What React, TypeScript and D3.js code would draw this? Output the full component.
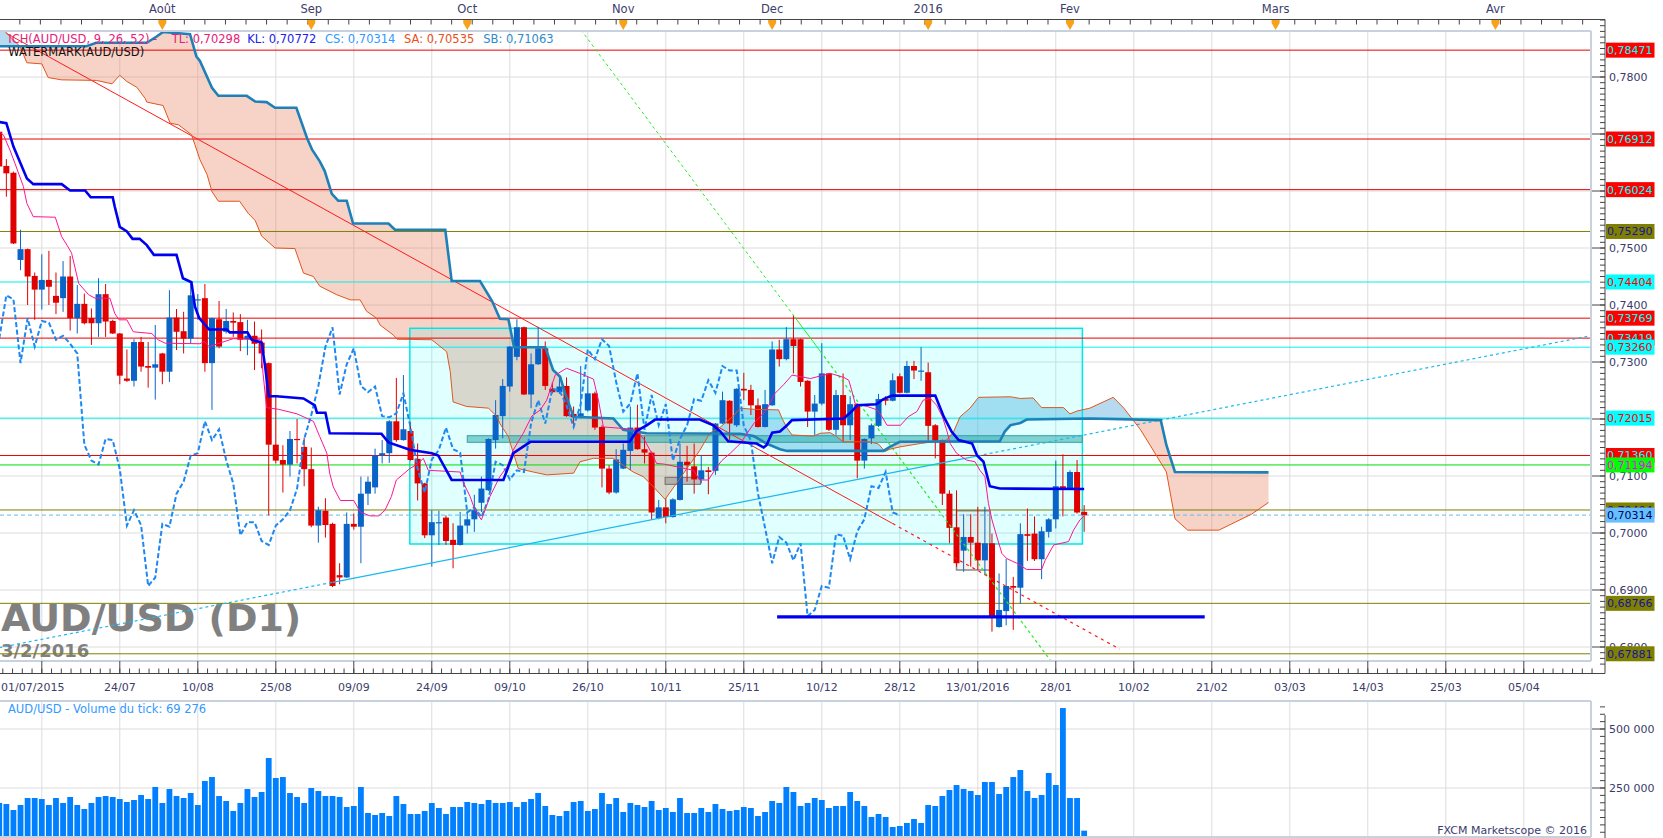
import React from "react";
import * as d3 from "d3";

// ---------------- DATA ----------------
const opens = [
  0.7704,0.7644,0.7632,0.7479,0.7498,0.7451,0.7427,0.7444,0.7416,0.7412,
  0.7450,0.7377,0.7402,0.7377,0.7368,0.7419,0.7372,0.7350,0.7271,0.7267,
  0.7335,0.7293,0.7290,0.7315,0.7283,0.7378,0.7354,0.7341,0.7409,0.7412,
  0.7298,0.7375,0.7353,0.7372,0.7370,0.7340,0.7346,0.7334,0.7298,0.7155,
  0.7128,0.7120,0.7165,0.7151,0.7112,0.7013,0.7039,0.7016,0.6926,0.6922,
  0.7016,0.7011,0.7069,0.7080,0.7136,0.7140,0.7196,0.7163,0.7179,0.7130,
  0.7087,0.6996,0.7018,0.7027,0.6988,0.6979,0.7013,0.7024,0.7053,0.7075,
  0.7163,0.7205,0.7257,0.7309,0.7361,0.7243,0.7296,0.7324,0.7253,0.7247,
  0.7258,0.7209,0.7203,0.7215,0.7245,0.7186,0.7113,0.7071,0.7113,0.7144,
  0.7185,0.7147,0.7141,0.7026,0.7045,0.7028,0.7058,0.7125,0.7117,0.7094,
  0.7110,0.7109,0.7192,0.7232,0.7189,0.7253,0.7251,0.7224,0.7186,0.7224,
  0.7322,0.7305,0.7340,0.7340,0.7267,0.7213,0.7227,0.7280,0.7181,0.7242,
  0.7189,0.7226,0.7127,0.7166,0.7188,0.7235,0.7232,0.7275,0.7246,0.7293,
  0.7284,0.7282,0.7189,0.7163,0.7069,0.7010,0.6969,0.6993,0.6983,0.6952,
  0.6982,0.6835,0.6863,0.6907,0.6904,0.6998,0.6999,0.6954,0.7002,0.7024,
  0.7082,0.7078,0.7107,0.7037,
];
const highs = [
  0.7707,0.7656,0.7634,0.7532,0.7499,0.7457,0.7489,0.7495,0.7457,0.7477,
  0.7486,0.7435,0.7420,0.7394,0.7447,0.7437,0.7374,0.7351,0.7322,0.7340,
  0.7344,0.7335,0.7365,0.7316,0.7426,0.7393,0.7388,0.7441,0.7419,0.7437,
  0.7378,0.7407,0.7393,0.7387,0.7384,0.7374,0.7371,0.7357,0.7299,0.7240,
  0.7154,0.7179,0.7200,0.7167,0.7150,0.7046,0.7061,0.7018,0.6947,0.7036,
  0.7034,0.7099,0.7099,0.7148,0.7163,0.7198,0.7272,0.7277,0.7194,0.7157,
  0.7088,0.7040,0.7039,0.7031,0.7017,0.7037,0.7038,0.7067,0.7099,0.7166,
  0.7233,0.7270,0.7328,0.7375,0.7362,0.7315,0.7362,0.7336,0.7264,0.7277,
  0.7273,0.7222,0.7293,0.7274,0.7248,0.7189,0.7119,0.7147,0.7157,0.7222,
  0.7225,0.7169,0.7143,0.7058,0.7061,0.7061,0.7157,0.7153,0.7157,0.7137,
  0.7116,0.7193,0.7248,0.7233,0.7254,0.7281,0.7260,0.7236,0.7251,0.7336,
  0.7339,0.7361,0.7382,0.7341,0.7268,0.7242,0.7333,0.7281,0.7251,0.7280,
  0.7240,0.7227,0.7166,0.7192,0.7244,0.7240,0.7280,0.7280,0.7302,0.7302,
  0.7326,0.7299,0.7191,0.7164,0.7075,0.7075,0.7033,0.7033,0.7046,0.7046,
  0.6999,0.6929,0.6955,0.6923,0.7017,0.7043,0.7029,0.7011,0.7026,0.7127,
  0.7138,0.7110,0.7128,0.7049,
];
const lows = [
  0.7640,0.7590,0.7507,0.7461,0.7400,0.7374,0.7392,0.7400,0.7384,0.7388,
  0.7355,0.7350,0.7366,0.7330,0.7344,0.7344,0.7349,0.7261,0.7265,0.7257,
  0.7283,0.7255,0.7234,0.7261,0.7265,0.7321,0.7315,0.7333,0.7374,0.7283,
  0.7216,0.7324,0.7350,0.7344,0.7319,0.7312,0.7286,0.7289,0.7031,0.7122,
  0.7071,0.7099,0.7122,0.7082,0.7010,0.6983,0.6992,0.6905,0.6910,0.6921,
  0.7006,0.6947,0.7049,0.7069,0.7122,0.7123,0.7160,0.7162,0.7127,0.7057,
  0.6991,0.6941,0.6979,0.6979,0.6938,0.6978,0.6999,0.7002,0.7037,0.7074,
  0.7148,0.7166,0.7248,0.7303,0.7242,0.7219,0.7295,0.7251,0.7245,0.7244,
  0.7204,0.7185,0.7201,0.7213,0.7181,0.7080,0.7068,0.7069,0.7112,0.7110,
  0.7146,0.7122,0.7023,0.7024,0.7017,0.7027,0.7057,0.7090,0.7069,0.7087,
  0.7068,0.7102,0.7191,0.7163,0.7186,0.7233,0.7207,0.7185,0.7185,0.7223,
  0.7292,0.7303,0.7280,0.7257,0.7186,0.7172,0.7224,0.7179,0.7172,0.7160,
  0.7163,0.7096,0.7113,0.7156,0.7186,0.7224,0.7231,0.7245,0.7245,0.7270,
  0.7267,0.7162,0.7131,0.7049,0.6982,0.6941,0.6932,0.6941,0.6935,0.6926,
  0.6827,0.6834,0.6838,0.6830,0.6876,0.6951,0.6951,0.6919,0.6992,0.7008,
  0.7029,0.7077,0.7034,0.7002,
];
const closes = [
  0.7643,0.7631,0.7508,0.7498,0.7450,0.7427,0.7444,0.7432,0.7404,0.7450,
  0.7377,0.7402,0.7368,0.7368,0.7419,0.7371,0.7350,0.7276,0.7267,0.7335,
  0.7292,0.7290,0.7296,0.7283,0.7378,0.7353,0.7341,0.7417,0.7410,0.7298,
  0.7377,0.7327,0.7372,0.7369,0.7339,0.7346,0.7332,0.7315,0.7155,0.7127,
  0.7120,0.7165,0.7163,0.7112,0.7013,0.7040,0.7014,0.6907,0.6922,0.7016,
  0.7011,0.7069,0.7090,0.7136,0.7140,0.7196,0.7163,0.7182,0.7128,0.7087,
  0.6996,0.7019,0.7019,0.6986,0.6979,0.7013,0.7024,0.7040,0.7078,0.7165,
  0.7207,0.7258,0.7327,0.7361,0.7243,0.7296,0.7324,0.7258,0.7247,0.7257,
  0.7205,0.7203,0.7210,0.7245,0.7185,0.7113,0.7071,0.7129,0.7146,0.7185,
  0.7147,0.7141,0.7036,0.7045,0.7028,0.7059,0.7125,0.7119,0.7094,0.7110,
  0.7107,0.7192,0.7233,0.7192,0.7253,0.7250,0.7224,0.7186,0.7226,0.7322,
  0.7305,0.7340,0.7328,0.7265,0.7213,0.7227,0.7280,0.7181,0.7242,0.7189,
  0.7226,0.7127,0.7165,0.7189,0.7235,0.7232,0.7268,0.7246,0.7293,0.7285,
  0.7285,0.7188,0.7162,0.7069,0.7009,0.6947,0.6993,0.6983,0.6952,0.6982,
  0.6854,0.6865,0.6907,0.6904,0.6998,0.6995,0.6954,0.7003,0.7024,0.7082,
  0.7079,0.7107,0.7036,0.70314,
];
const volumes = [
  186400,182100,156700,177900,207600,207600,203300,177900,207600,186400,
  211800,177900,161000,186400,211800,216000,211800,203300,190600,199100,
  220300,203300,254200,186400,245700,216000,207600,228700,177900,279600,
  296500,216000,194900,152500,186400,245700,211800,233000,377000,292300,
  296500,228700,211800,186400,249900,237200,216000,216000,211800,169400,
  173700,254200,144000,135600,144000,131300,216000,182100,139800,139800,
  152500,186400,165200,139800,169400,169400,190600,186400,182100,199100,
  186400,186400,190600,169400,190600,203300,228700,173700,135600,131300,
  152500,190600,194900,152500,161000,228700,182100,207600,148300,186400,
  177900,169400,194900,156700,165200,148300,207600,144000,144000,165200,
  148300,182100,161000,152500,156700,169400,165200,131300,148300,194900,
  186400,254200,233000,173700,186400,207600,199100,165200,173700,173700,
  233000,194900,173700,127100,139800,127100,84700,89000,101700,118600,
  101700,177900,173700,216000,241500,262600,245700,237200,220300,275300,
  275300,224500,254200,296500,326200,237200,207600,220300,313500,262600,
  588800,207600,207600,69276,
];

// Ichimoku lines as [bar, price] break points
const tenkan: [number, number][] = [
  [0,0.7704],[0.6,0.7698],[1.5,0.7672],[2.2,0.7649],[3.4,0.7608],[3.9,0.7578],[4.8,0.7555],[7.9,0.7554],
  [8.8,0.7520],[9.7,0.7502],[10.2,0.7491],[11.2,0.7438],[12.6,0.7418],[13.5,0.7412],[15.6,0.7412],[16.3,0.7385],
  [16.9,0.7374],[18,0.7374],[18.9,0.7353],[21.5,0.7350],[22.4,0.7339],[23.4,0.7333],[28.3,0.7332],[28.9,0.7336],
  [29.6,0.7327],[33,0.7341],[36.8,0.7339],[37.2,0.7280],[37.7,0.7220],[39.4,0.7217],[42,0.7209],[43.4,0.7201],
  [44.3,0.7196],[45.2,0.7169],[46.2,0.7140],[46.6,0.7105],[47.1,0.7081],[48.1,0.7057],[50,0.7057],[50.9,0.7037],
  [52.3,0.7030],[53.5,0.7030],[54.4,0.7040],[55.3,0.7064],[56,0.7093],[57.9,0.7113],[59.1,0.7122],[59.8,0.7131],
  [60.5,0.7110],[65,0.7107],[65.5,0.7087],[66.4,0.7064],[67.1,0.7040],[68,0.7023],[69.2,0.7064],[70.6,0.7099],
  [71.6,0.7116],[72.5,0.7146],[73.9,0.7175],[75.1,0.7205],[76.3,0.7216],[77.2,0.7233],[78.4,0.7277],[80,0.7289],
  [81.9,0.7280],[83.8,0.7270],[84.5,0.7233],[85.2,0.7186],[88.5,0.7183],[89.9,0.7180],[91,0.7163],[92,0.7140],
  [92.7,0.7122],[93.7,0.7121],[97.9,0.7110],[98.8,0.7093],[100,0.7093],[101.2,0.7116],[101.9,0.7127],[103.1,0.7140],
  [104.5,0.7157],[106.4,0.7192],[108.2,0.7216],[109.4,0.7245],[110.6,0.7260],[111.8,0.7277],[114.4,0.7271],[117.2,0.7280],
  [119.1,0.7273],[119.8,0.7268],[120.2,0.7251],[120.7,0.7227],[122.4,0.7222],[123.8,0.7216],[124.5,0.7204],[125.2,0.7189],
  [127.1,0.7189],[128.2,0.7204],[129.4,0.7213],[130.3,0.7233],[131.3,0.7236],[132.2,0.7224],[133,0.7204],[133.6,0.7181],
  [134.1,0.7157],[135,0.7140],[136.4,0.7128],[137.6,0.7125],[138.3,0.7110],[139,0.7099],[139.5,0.7052],[140,0.7023],
  [140.7,0.6993],[141.4,0.6964],[142.1,0.6955],[143.5,0.6947],[144.9,0.6936],[147,0.6936],[147.5,0.6952],[148.7,0.6979],
  [150.8,0.6985],[151.5,0.7005],[152.4,0.7023],[153,0.70298],
];
const kijun: [number, number][] = [
  [0,0.7721],[1,0.7719],[2,0.7678],[3.9,0.7622],[4.8,0.7612],[8.8,0.7612],[10,0.7601],[12.1,0.7601],
  [12.9,0.7589],[16,0.7589],[16.3,0.7572],[17,0.7537],[18,0.7529],[18.8,0.7516],[19.8,0.7516],[20.8,0.7505],
  [21.8,0.7488],[25,0.7488],[25.9,0.7447],[27.1,0.7440],[27.6,0.7397],[28.2,0.7377],[29.6,0.7357],[32.1,0.7357],
  [32.5,0.7352],[35,0.7352],[35.6,0.7339],[37,0.7334],[37.5,0.7292],[38,0.7240],[39.1,0.7240],[42.9,0.7236],
  [44.5,0.7224],[44.8,0.7211],[46,0.7211],[46.6,0.7175],[53.9,0.7174],[54.9,0.7159],[57.9,0.7146],[61,0.7140],
  [61.9,0.7136],[63.8,0.7093],[71.1,0.7093],[72.5,0.7140],[74.9,0.7160],[88.9,0.7160],[89.9,0.7179],[91.3,0.7189],
  [92.5,0.7199],[98.8,0.7199],[100.7,0.7189],[101.7,0.7178],[102.8,0.7161],[106.8,0.7157],[107.8,0.7150],[108.2,0.7154],
  [109,0.7176],[110.1,0.7178],[111.1,0.7189],[111.8,0.7198],[119.1,0.7201],[120.2,0.7213],[121,0.7224],[123.7,0.7226],
  [124.7,0.7235],[125.9,0.7241],[132,0.7241],[133.2,0.7204],[134.3,0.7178],[135.3,0.7163],[137.2,0.7157],[137.9,0.7136],
  [138.8,0.7125],[139.7,0.7082],[141.1,0.7078],[153,0.70772],
];
const senkouA: [number, number][] = [
  [0,0.7900],[1,0.7877],[2.9,0.7854],[3.9,0.7825],[6,0.7823],[6.9,0.7799],[8.8,0.7795],[13.7,0.7794],
  [15.9,0.7788],[17,0.7803],[18,0.7792],[19.4,0.7782],[20.6,0.7762],[20.8,0.7756],[23.1,0.7750],[24.1,0.7719],
  [25.3,0.7716],[27.1,0.7699],[27.6,0.7681],[28.3,0.7655],[29.3,0.7629],[30,0.7599],[30.9,0.7582],[33.9,0.7582],
  [35.1,0.7561],[36.1,0.7548],[37,0.7521],[38.9,0.7500],[41.7,0.7499],[42.9,0.7456],[44.3,0.7450],[45.2,0.7433],
  [47.6,0.7418],[49.5,0.7409],[50.9,0.7409],[51.8,0.7389],[53.2,0.7377],[53.7,0.7365],[55.6,0.7347],[56.1,0.7340],
  [61,0.7339],[63.1,0.7318],[63.6,0.7283],[64,0.7230],[65.9,0.7222],[69,0.7219],[70.2,0.7204],[70.6,0.7192],
  [71.8,0.7169],[72.5,0.7140],[73.2,0.7113],[75.3,0.7107],[77.2,0.7102],[81,0.7105],[81.9,0.7125],[83.8,0.7131],
  [86.6,0.7131],[88,0.7119],[89.4,0.7107],[90.8,0.7099],[91.8,0.7087],[93.9,0.7059],[95.5,0.7087],[97.2,0.7117],
  [98.8,0.7145],[100.2,0.7175],[101.7,0.7186],[103.5,0.7205],[104.5,0.7219],[106.4,0.7217],[109.9,0.7216],[110.4,0.7201],
  [111.1,0.7184],[111.8,0.7172],[114.8,0.7170],[115.8,0.7175],[117.2,0.7176],[118.1,0.7169],[119,0.7160],[122.8,0.7160],
  [124,0.7156],[124.9,0.7143],[125.6,0.7147],[127,0.7151],[129.9,0.7157],[131.7,0.7160],[133.6,0.7163],[134.6,0.7178],
  [135.5,0.7204],[136.9,0.7219],[138.1,0.7238],[142.6,0.7239],[144,0.7236],[145.8,0.7237],[147,0.7220],[150.1,0.7220],
  [151,0.7209],[152,0.7214],[153.8,0.7219],[157.1,0.7238],[158.6,0.7219],[160.9,0.7182],[162.3,0.7154],[164.6,0.7107],
  [165.8,0.7025],[167.6,0.7005],[172,0.7005],[174.3,0.7019],[176.6,0.7033],[179,0.70535],
];
const senkouB: [number, number][] = [
  [0,0.7854],[12.3,0.7854],[13.7,0.7860],[20.8,0.7860],[22.2,0.7871],[23.1,0.7879],[26.9,0.7875],[27.8,0.7836],
  [28.3,0.7828],[30,0.7781],[30.9,0.7767],[34.9,0.7767],[36.1,0.7757],[37.7,0.7756],[38.9,0.7746],[41.9,0.7746],
  [43.4,0.7693],[44.1,0.7673],[45.2,0.7652],[45.9,0.7635],[46.9,0.7595],[47.8,0.7583],[49,0.7583],[49.9,0.7543],
  [54.9,0.7543],[55.8,0.7532],[62.9,0.7532],[63.8,0.7442],[67.8,0.7442],[69.5,0.7407],[70.6,0.7376],[71.8,0.7375],
  [72.6,0.7326],[77,0.7326],[78.1,0.7286],[79.1,0.7274],[79.8,0.7245],[81,0.7204],[86.6,0.7201],[88,0.7181],
  [91.3,0.7175],[104.5,0.7174],[106.4,0.7170],[108.2,0.7157],[110.1,0.7147],[111.1,0.7144],[124.7,0.7144],[125.6,0.7151],
  [127,0.7160],[141.1,0.7161],[141.8,0.7178],[142.6,0.7189],[144,0.7193],[144.9,0.7199],[153.8,0.7201],[163.8,0.7198],
  [164.6,0.7154],[165.8,0.7107],[179,0.71063],
];
const chikouShift = 26;

// Horizontal levels drawn on the chart
const levelPrices = [0.78471,0.76912,0.76024,0.75290,0.74404,0.73769,0.73419,0.73260,0.72015,0.71360,0.71194,0.70404,0.68766,0.67881];
const levelKinds = ["red","red","red","olive","cyan","red","red","cyan","cyan","red","green","olive","olive","olive"];
const lastPrice = 0.70314;

// Drawn trend lines [bar, price]
const redTrend: [number, number][] = [[1,0.78767],[126,0.70165],[158,0.67963]];
const greenTrend: [number, number][] = [[82.05,0.78825],[112.2,0.73787],[115.8,0.73186],[148.2,0.67772]];
const blueTrend: [number, number][] = [[0,0.67989],[47,0.69135],[138,0.71354],[224.4,0.73460]];
const supportLine: [number, number][] = [[109.7,0.6853],[170,0.6853]];

// Drawn rectangles: [bar0, bar1, priceTop, priceBottom]
const cyanBox = [57.9, 152.75, 0.73591, 0.69807];
const tealBox = [66, 152.75, 0.71707, 0.71591];
const grayBox1 = [93.9, 98.9, 0.70977, 0.70854];
const grayBox2 = [135, 139.7, 0.70391, 0.69351];

// Axis labels
const firstDateLabel = "01/07/2015";
const dateLabels = ["24/07","10/08","25/08","09/09","24/09","09/10","26/10","10/11","25/11","10/12","28/12","13/01/2016","28/01","10/02","21/02","03/03","14/03","25/03","05/04"];
const dateLabelFirstBar = 17;
const dateLabelStep = 11;
const monthLabels = ["Août","Sep","Oct","Nov","Dec","2016","Fev","Mars","Avr"];
const monthBars = [23,44,66,88,109,131,151,180,211];
const priceTicks = [0.68,0.69,0.70,0.71,0.72,0.73,0.74,0.75,0.76,0.77,0.78];
const volumeTicks = [250000, 500000];

// ---------------- CHART ----------------
const FONT = "DejaVu Sans, Verdana, sans-serif";
const PL = 0, PR = 1590, PT = 31, PB = 661;
const VT = 701, VB = 837;
const AX = 1605;

const kindStyle: Record<string, { line: string; bg: string; fg: string }> = {
  red: { line: "#E80000", bg: "#FF0000", fg: "#00FFFF" },
  olive: { line: "#808000", bg: "#808000", fg: "#1414A0" },
  cyan: { line: "#00F0F0", bg: "#00FFFF", fg: "#FF0000" },
  green: { line: "#00DD00", bg: "#00FF00", fg: "#FF00FF" },
};

const fmt = (p: number, d: number) => p.toFixed(d).replace(".", ",");
const fmtVol = (v: number) => d3.format(",")(v).replace(/,/g, " ");

export default function App() {
  const x = d3.scaleLinear().domain([6, 149]).range([41.8, 1055.8]);
  const y = d3.scaleLinear().domain([0.7, 0.78]).range([533, 77]);
  const yv = d3.scaleLinear().domain([250000, 500000]).range([788, 729]);

  const line = d3.line<[number, number]>().x((d) => x(d[0])).y((d) => y(d[1]));

  const saI = d3.scaleLinear().domain(senkouA.map((d) => d[0])).range(senkouA.map((d) => d[1])).clamp(true);
  const sbI = d3.scaleLinear().domain(senkouB.map((d) => d[0])).range(senkouB.map((d) => d[1])).clamp(true);
  const samples = d3.range(0, 179.0001, 0.1);
  const bearArea = d3.area<number>().x((b) => x(b)).y0((b) => y(saI(b))).y1((b) => y(Math.max(saI(b), sbI(b))));
  const bullArea = d3.area<number>().x((b) => x(b)).y0((b) => y(sbI(b))).y1((b) => y(Math.max(saI(b), sbI(b))));

  const chikou: [number, number][] = closes.slice(chikouShift).map((c, i) => [i, c]);

  const gridBars = d3.range(6, 226, dateLabelStep).filter((b) => x(b) < PR);
  const minorBars = d3.range(6 - dateLabelStep, 226, dateLabelStep / 8).filter((b) => x(b) >= 0 && x(b) < AX);
  const topTickBars = d3.range(0, 226, 2.9).filter((b) => x(b) < AX);
  const minorPrice = d3.range(0.677, 0.7905, 0.001);
  const minorVol = d3.range(0, 700000, 31250).filter((v) => yv(v) > VT && yv(v) < VB);

  // price tick labels that collide with a level label are hidden (as the platform does)
  const allLabelY = [...levelPrices, lastPrice].map((p) => y(p));
  const shownTicks = priceTicks.filter((p) => allLabelY.every((ly) => Math.abs(ly - y(p)) >= 6));

  const up = "#0A64C8";
  const down = "#E00000";

  const rectOf = (r: number[]) => ({ x: x(r[0]), y: y(r[2]), w: x(r[1]) - x(r[0]), h: y(r[3]) - y(r[2]) });
  const cb = rectOf(cyanBox), tb = rectOf(tealBox), g1 = rectOf(grayBox1), g2 = rectOf(grayBox2);

  return (
    <svg width={1663} height={838} style={{ position: "absolute", left: 0, top: 0, background: "#fff" }} fontFamily={FONT}>
      <defs>
        <clipPath id="pane"><rect x={PL} y={PT} width={PR - PL} height={PB - PT} /></clipPath>
        <clipPath id="vpane"><rect x={PL} y={VT} width={PR - PL} height={VB - VT} /></clipPath>
      </defs>
      <rect x={0} y={0} width={1663} height={838} fill="#fff" />

      {/* grids */}
      <g stroke="#DCDCDC" strokeWidth={1}>
        {gridBars.map((b) => (
          <line key={"gv" + b} x1={x(b)} x2={x(b)} y1={PT} y2={PB} />
        ))}
        {priceTicks.map((p) => (
          <line key={"gh" + p} x1={PL} x2={PR} y1={y(p)} y2={y(p)} />
        ))}
        {gridBars.map((b) => (
          <line key={"vgv" + b} x1={x(b)} x2={x(b)} y1={VT} y2={VB} />
        ))}
        {volumeTicks.map((v) => (
          <line key={"vgh" + v} x1={PL} x2={PR} y1={yv(v)} y2={yv(v)} />
        ))}
      </g>

      {/* watermark */}
      <text x={1} y={631} fontWeight="bold" fontSize={38} fill="#808080">AUD/USD (D1)</text>
      <text x={1} y={656.5} fontWeight="bold" fontSize={18} fill="#808080">3/2/2016</text>

      <g clipPath="url(#pane)">
        {/* cloud */}
        <path d={bearArea(samples) || ""} fill="rgba(230,130,100,0.36)" stroke="none" />
        <path d={bullArea(samples) || ""} fill="rgba(80,170,220,0.42)" stroke="none" />

        {/* rectangles */}
        <rect x={cb.x} y={cb.y} width={cb.w} height={cb.h} fill="rgba(0,255,255,0.12)" stroke="#00E6E6" strokeWidth={1.5} />
        <rect x={tb.x} y={tb.y} width={tb.w} height={tb.h} fill="rgba(60,180,180,0.6)" stroke="#3AA0A0" strokeWidth={1} />
        <rect x={g1.x} y={g1.y} width={g1.w} height={g1.h} fill="rgba(150,150,150,0.6)" stroke="#806860" strokeWidth={1} />
        <rect x={g2.x} y={g2.y} width={g2.w} height={g2.h} fill="rgba(215,215,215,0.3)" stroke="#8A8A8A" strokeWidth={1.5} />

        {/* levels */}
        {levelPrices.map((p, i) => (
          <line key={"lv" + i} x1={PL} x2={PR} y1={y(p)} y2={y(p)} stroke={kindStyle[levelKinds[i]].line} strokeWidth={1} />
        ))}
        <line x1={PL} x2={PR} y1={y(lastPrice)} y2={y(lastPrice)} stroke="#66BBEE" strokeWidth={1} strokeDasharray="4,3" />

        {/* candles */}
        {opens.map((o, i) => {
          const c = closes[i];
          const col = c >= o ? up : down;
          const cx = x(i);
          const top = y(Math.max(o, c));
          const bot = y(Math.min(o, c));
          return (
            <g key={"c" + i}>
              <line x1={cx} x2={cx} y1={y(highs[i])} y2={y(lows[i])} stroke={col} strokeWidth={1} />
              <rect x={cx - 3} y={top} width={6} height={Math.max(1.2, bot - top)} fill={col} />
            </g>
          );
        })}

        {/* trend lines */}
        <path d={line(redTrend.slice(0, 2)) || ""} fill="none" stroke="#FF1A1A" strokeWidth={1} />
        <path d={line(redTrend.slice(1, 3)) || ""} fill="none" stroke="#FF1A1A" strokeWidth={1.2} strokeDasharray="3,4" />
        <path d={line(greenTrend.slice(0, 2)) || ""} fill="none" stroke="#22EE22" strokeWidth={1} strokeDasharray="3,3" />
        <path d={line(greenTrend.slice(1, 3)) || ""} fill="none" stroke="#22EE22" strokeWidth={1} />
        <path d={line(greenTrend.slice(2, 4)) || ""} fill="none" stroke="#22EE22" strokeWidth={1.2} strokeDasharray="3,3" />
        <path d={line(blueTrend.slice(0, 2)) || ""} fill="none" stroke="#1AB8F0" strokeWidth={1.2} strokeDasharray="3,3" />
        <path d={line(blueTrend.slice(1, 3)) || ""} fill="none" stroke="#1AB8F0" strokeWidth={1.2} />
        <path d={line(blueTrend.slice(2, 4)) || ""} fill="none" stroke="#1AB8F0" strokeWidth={1.2} strokeDasharray="3,3" />

        {/* ichimoku lines */}
        <path d={line(senkouA) || ""} fill="none" stroke="#E2561C" strokeWidth={1} />
        <path d={line(senkouB) || ""} fill="none" stroke="#1F80B8" strokeWidth={2.6} />
        <path d={line(chikou) || ""} fill="none" stroke="#1E88F0" strokeWidth={2} strokeDasharray="5,2.5" />
        <path d={line(tenkan) || ""} fill="none" stroke="#FF1493" strokeWidth={1} />
        <path d={line(kijun) || ""} fill="none" stroke="#0000F0" strokeWidth={2.6} />

        <path d={line(supportLine) || ""} fill="none" stroke="#0000F0" strokeWidth={3.2} />
      </g>

      {/* legend */}
      <g fontSize={11.5}>
        <text x={8.3} y={43} fill="#E8207A">ICH(AUD/USD, 9, 26, 52) -</text>
        <text x={171.7} y={43} fill="#E8207A">TL: 0,70298</text>
        <text x={247.3} y={43} fill="#2020E8">KL: 0,70772</text>
        <text x={325} y={43} fill="#3399FF">CS: 0,70314</text>
        <text x={404} y={43} fill="#E8501A">SA: 0,70535</text>
        <text x={483.3} y={43} fill="#2E8BC8">SB: 0,71063</text>
        <text x={8.3} y={56} fill="#111">WATERMARK(AUD/USD)</text>
      </g>

      {/* volume bars */}
      <g clipPath="url(#vpane)">
        {volumes.map((v, i) => (
          <rect key={"v" + i} x={x(i) - 2.9} y={yv(v)} width={5.8} height={Math.max(0, VB - 0.5 - yv(v))} fill="#007FFF" />
        ))}
      </g>
      <text x={8} y={713} fontSize={11.5} fill="#3399FF">AUD/USD - Volume du tick: {fmtVol(volumes[volumes.length - 1])}</text>
      <text x={1587} y={834} fontSize={11} fill="#3C3C6E" textAnchor="end">FXCM Marketscope © 2016</text>

      {/* pane borders */}
      <g fill="none" stroke="#C8D2DE" strokeWidth={2}>
        <line x1={0} x2={PR + 1} y1={PT} y2={PT} />
        <line x1={PR + 1} x2={PR + 1} y1={PT} y2={PB} />
        <line x1={0} x2={PR + 1} y1={PB} y2={PB} />
        <line x1={0} x2={PR + 1} y1={VT} y2={VT} />
        <line x1={PR + 1} x2={PR + 1} y1={VT} y2={VB} />
        <line x1={0} x2={PR + 1} y1={VB} y2={VB} />
      </g>

      {/* top axis */}
      <g stroke="#444" strokeWidth={1}>
        <line x1={0} x2={AX} y1={19.5} y2={19.5} />
        {topTickBars.map((b, i) => (
          <line key={"tt" + i} x1={x(b)} x2={x(b)} y1={19.5} y2={24.5} />
        ))}
      </g>
      {monthBars.map((b, i) => (
        <g key={"m" + i}>
          <path d={`M${x(b) - 4},20 L${x(b) + 4},20 L${x(b) + 4},23 L${x(b)},30 L${x(b) - 4},23 Z`} fill="#F7A21B" />
          <text x={x(b)} y={13} fontSize={11.5} fill="#3D3D6B" textAnchor="middle">{monthLabels[i]}</text>
        </g>
      ))}

      {/* bottom date axis */}
      <g stroke="#444" strokeWidth={1}>
        <line x1={0} x2={AX} y1={673.5} y2={673.5} />
        {minorBars.map((b, i) => (
          <line key={"mb" + i} x1={x(b)} x2={x(b)} y1={668.5} y2={673.5} />
        ))}
        {gridBars.map((b) => (
          <line key={"mj" + b} x1={x(b)} x2={x(b)} y1={661} y2={673.5} />
        ))}
      </g>
      <text x={1} y={691} fontSize={11} fill="#3D3D6B">{firstDateLabel}</text>
      {dateLabels.map((t, i) => (
        <text key={"dl" + i} x={x(dateLabelFirstBar + i * dateLabelStep)} y={691} fontSize={11} fill="#3D3D6B" textAnchor="middle">{t}</text>
      ))}

      {/* right price axis */}
      <g stroke="#444" strokeWidth={1}>
        <line x1={AX} x2={AX} y1={19.5} y2={673.5} />
        {minorPrice.map((p, i) => (
          <line key={"mp" + i} x1={AX - 5} x2={AX} y1={y(p)} y2={y(p)} />
        ))}
        {priceTicks.map((p) => (
          <line key={"pt" + p} x1={AX - 13} x2={AX} y1={y(p)} y2={y(p)} />
        ))}
        <line x1={AX} x2={AX} y1={VT + 14} y2={838} />
        {minorVol.map((v, i) => (
          <line key={"mv" + i} x1={AX - 5} x2={AX} y1={yv(v)} y2={yv(v)} />
        ))}
        {volumeTicks.map((v) => (
          <line key={"vt" + v} x1={AX - 13} x2={AX} y1={yv(v)} y2={yv(v)} />
        ))}
      </g>
      {shownTicks.map((p) => (
        <text key={"ptl" + p} x={1609} y={y(p) + 4} fontSize={11} fill="#3A3A6A">{fmt(p, 4)}</text>
      ))}
      {volumeTicks.map((v) => (
        <text key={"vtl" + v} x={1609} y={yv(v) + 4} fontSize={11} fill="#3A3A6A">{fmtVol(v)}</text>
      ))}

      {/* level labels */}
      {levelPrices.map((p, i) => {
        const st = kindStyle[levelKinds[i]];
        return (
          <g key={"ll" + i}>
            <rect x={1606} y={y(p) - 7.5} width={48.5} height={15} fill={st.bg} />
            <text x={1607} y={y(p) + 4} fontSize={11} fill={st.fg}>{fmt(p, 5)}</text>
          </g>
        );
      })}
      <rect x={1606} y={y(lastPrice) - 7.5} width={48.5} height={15} fill="#66C0FF" />
      <text x={1607} y={y(lastPrice) + 4} fontSize={11} fill="#000060">{fmt(lastPrice, 5)}</text>
    </svg>
  );
}
